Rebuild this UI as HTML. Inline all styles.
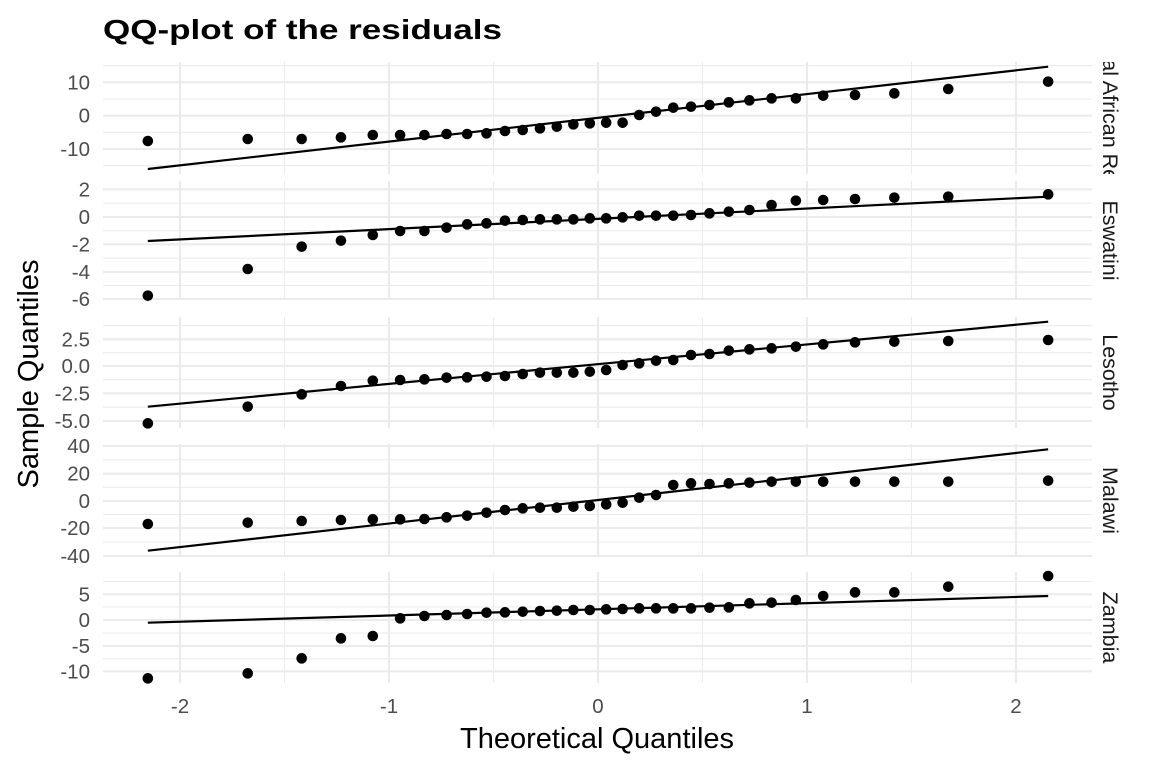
<!DOCTYPE html>
<html><head><meta charset="utf-8"><style>
html,body{margin:0;padding:0;background:#fff;}
svg{display:block;font-family:"Liberation Sans",Arial,sans-serif;}
</style></head><body>
<svg id="s" width="1152" height="768" xmlns="http://www.w3.org/2000/svg">
<defs></defs>
<g id="g"></g>
<text x="103" y="39" font-size="28" font-weight="bold" fill="#000" textLength="399" lengthAdjust="spacingAndGlyphs">QQ-plot of the residuals</text>
<text transform="translate(38,374) rotate(-90)" text-anchor="middle" font-size="29" fill="#000">Sample Quantiles</text>
<text x="597" y="748" text-anchor="middle" font-size="29" fill="#000">Theoretical Quantiles</text>
</svg>
<script>
var NS="http://www.w3.org/2000/svg",g=document.getElementById("g");
function el(t,a,txt,par){var e=document.createElementNS(NS,t);for(var k in a)e.setAttribute(k,a[k]);if(txt!=null)e.textContent=txt;(par||g).appendChild(e);return e;}
function qnorm(p){var a=[-39.69683028665376,220.9460984245205,-275.9285104469687,138.357751867269,-30.66479806614716,2.506628277459239],b=[-54.47609879822406,161.5858368580409,-155.6989798598866,66.80131188771972,-13.28068155288572],c=[-0.007784894002430293,-0.3223964580411365,-2.400758277161838,-2.549732539343734,4.374664141464968,2.938163982698783],d=[0.007784695709041462,0.3224671290700398,2.445134137142996,3.754408661907416];var q,r;if(p<0.02425){q=Math.sqrt(-2*Math.log(p));return(((((c[0]*q+c[1])*q+c[2])*q+c[3])*q+c[4])*q+c[5])/((((d[0]*q+d[1])*q+d[2])*q+d[3])*q+1);}if(p>1-0.02425){q=Math.sqrt(-2*Math.log(1-p));return-(((((c[0]*q+c[1])*q+c[2])*q+c[3])*q+c[4])*q+c[5])/((((d[0]*q+d[1])*q+d[2])*q+d[3])*q+1);}q=p-0.5;r=q*q;return(((((a[0]*r+a[1])*r+a[2])*r+a[3])*r+a[4])*r+a[5])*q/(((((b[0]*r+b[1])*r+b[2])*r+b[3])*r+b[4])*r+1);}
var n=32,X=[];for(var i=1;i<=n;i++){X.push(598+209*qnorm((i-0.5)/n));}
var L=103,R=1092;
var panels=[
 {top:62,bot:174,maj:[[82.3,"10"],[115.7,"0"],[149,"-10"]],min:[65.6,99,132.3,165.7],lab:"Central African Republic",dy:4,
  off:55,ys:[258,252,252,247,240,240,240,237,237,235,228,225,220,215,208,205,203,203,180,170,158,155,150,142,136,130,130,122,120,115,102,80],ln:[342,35]},
 {top:181,bot:300,maj:[[189.3,"2"],[217,"0"],[244.3,"-2"],[272,"-4"],[299,"-6"]],min:[203.2,230.7,258.2,285.5],lab:"Eswatini",dy:0,
  off:55,ys:[722,642,575,557,540,528,528,518,508,505,497,495,493,493,493,490,490,487,482,482,482,480,475,470,465,450,437,435,432,428,425,418],ln:[558,425]},
 {top:317,bot:428,maj:[[339.3,"2.5"],[366,"0.0"],[393.3,"-2.5"],[421,"-5.0"]],min:[325.7,352.7,379.7,407.2],lab:"Lesotho",dy:0,
  off:310,ys:[340,290,253,228,212,210,208,203,202,200,198,192,188,188,188,185,180,165,160,152,150,135,132,122,118,115,110,103,97,95,93,90],ln:[290,35]},
 {top:444,bot:557,maj:[[446,"40"],[473.7,"20"],[501,"0"],[528,"-20"],[556,"-40"]],min:[459.8,487.3,514.5,542],lab:"Malawi",dy:0,
  off:310,ys:[642,638,633,630,628,628,627,622,617,608,600,595,593,593,590,588,583,578,563,555,525,520,522,520,518,515,515,515,515,515,515,512],ln:[722,418]},
 {top:572,bot:683,maj:[[594.3,"5"],[620,"0"],[646,"-5"],[671.3,"-10"]],min:[581.5,607,633,658.7],lab:"Zambia",dy:0,
  off:560,ys:[355,340,295,235,228,175,168,165,162,158,157,155,153,152,150,150,148,147,145,145,145,145,143,142,130,128,120,108,97,97,80,48],ln:[188,108]}
];
var defs=document.querySelector("defs");
panels.forEach(function(p,k){
 p.min.forEach(function(y){el("line",{x1:L,x2:R,y1:y,y2:y,stroke:"#ebebeb","stroke-width":1.1});});
 [284.5,493.5,702.5,911.5].forEach(function(x){el("line",{x1:x,x2:x,y1:p.top,y2:p.bot,stroke:"#ebebeb","stroke-width":1.1});});
 p.maj.forEach(function(m){el("line",{x1:L,x2:R,y1:m[0],y2:m[0],stroke:"#ebebeb","stroke-width":2.1});
   el("text",{x:90,y:m[0]+7,"text-anchor":"end","font-size":20.5,fill:"#4d4d4d"},m[1]);});
 [180,389,598,807,1016].forEach(function(x){el("line",{x1:x,x2:x,y1:p.top,y2:p.bot,stroke:"#ebebeb","stroke-width":2.1});});
 el("line",{x1:X[0],x2:X[31],y1:p.off+p.ln[0]/3,y2:p.off+p.ln[1]/3,stroke:"#000","stroke-width":2.2});
 p.ys.forEach(function(v,i){el("circle",{cx:X[i],cy:p.off+v/3,r:5.3,fill:"#000"});});
 var cp=document.createElementNS(NS,"clipPath");cp.setAttribute("id","cp"+k);
 var r=document.createElementNS(NS,"rect");r.setAttribute("x",1095);r.setAttribute("y",p.top);r.setAttribute("width",50);r.setAttribute("height",p.bot-p.top);
 cp.appendChild(r);defs.appendChild(cp);
 var gg=el("g",{"clip-path":"url(#cp"+k+")"});
 var cy=(p.top+p.bot)/2+p.dy;
 el("text",{transform:"translate(1103,"+cy+") rotate(90)","text-anchor":"middle","font-size":21.5,fill:"#1a1a1a"},p.lab,gg);
});
[[-2,"-2"],[-1,"-1"],[0,"0"],[1,"1"],[2,"2"]].forEach(function(a){el("text",{x:598+209*a[0],y:713,"text-anchor":"middle","font-size":20.5,fill:"#4d4d4d"},a[1]);});
</script>
</body></html>
